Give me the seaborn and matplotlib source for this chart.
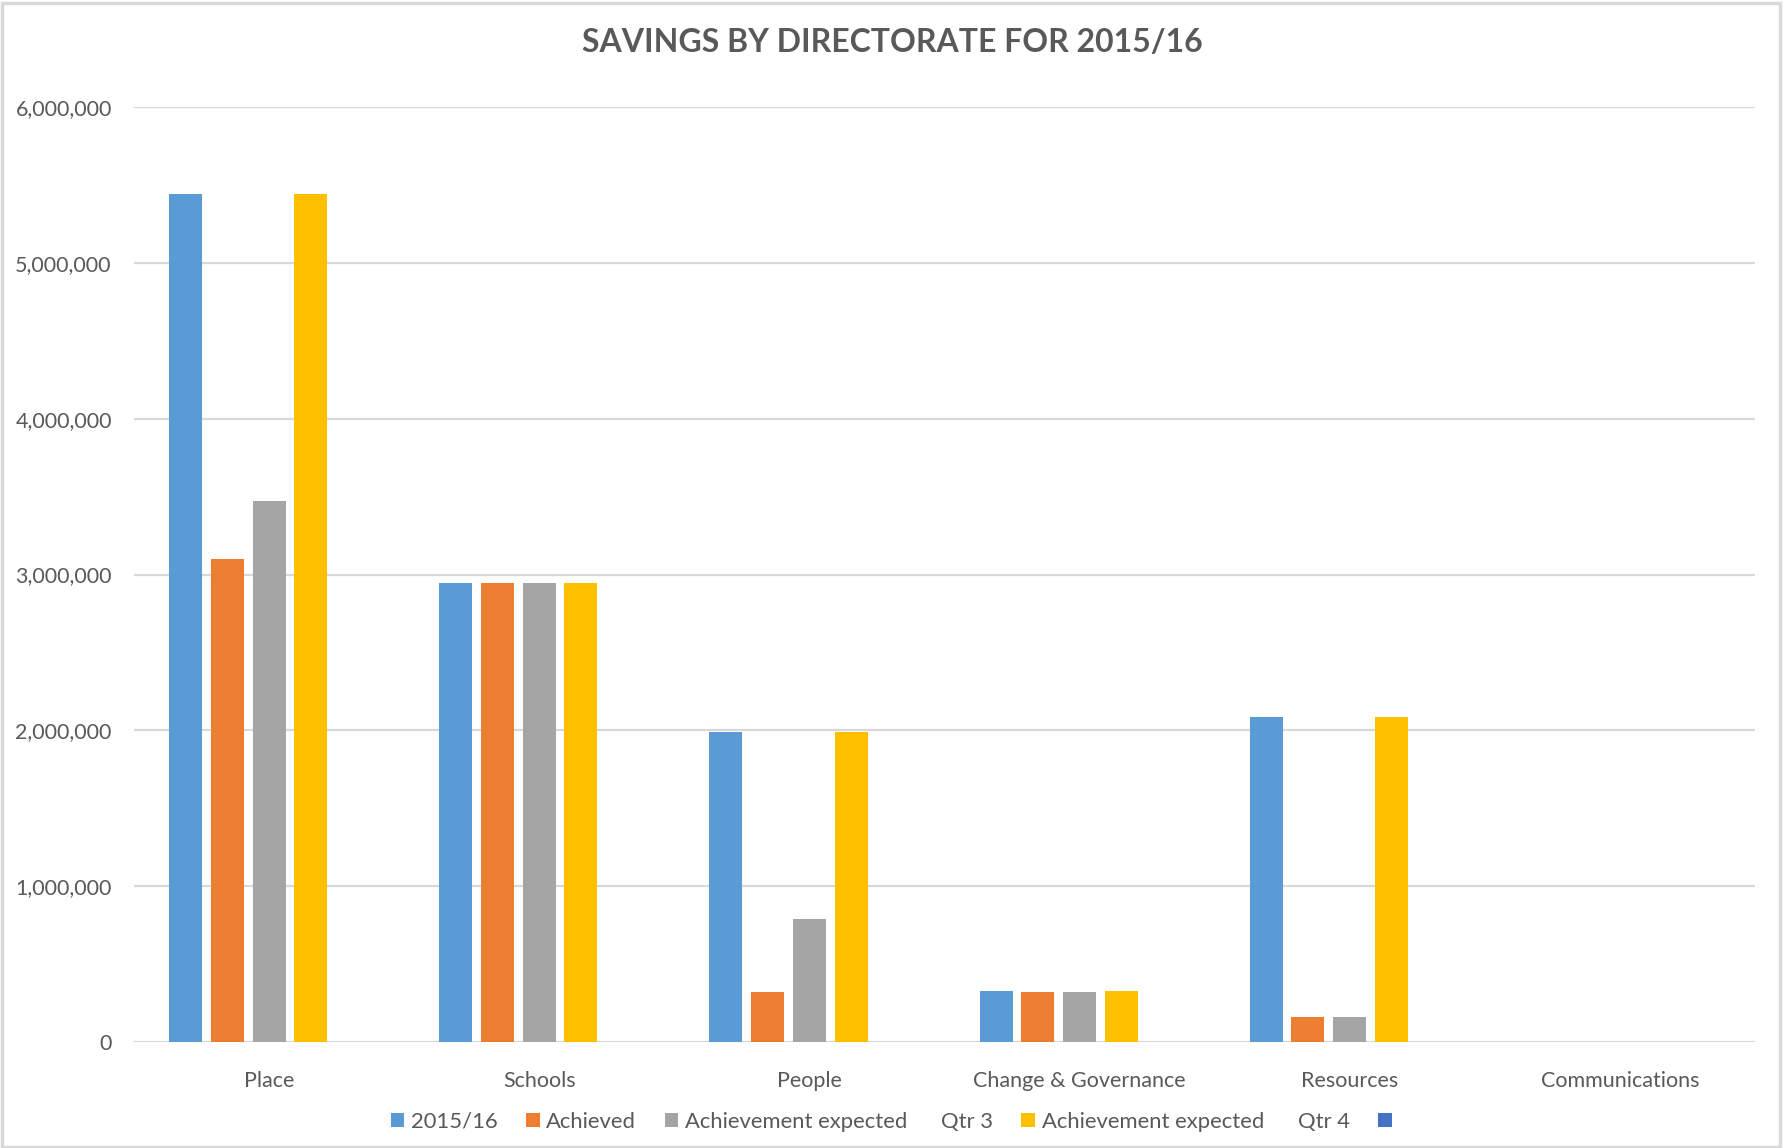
import matplotlib
matplotlib.use("Agg")
import matplotlib.pyplot as plt
import seaborn as sns
import pandas as pd
from matplotlib.ticker import FuncFormatter

# Directorates and savings figures (GBP)
directorates = ["Place", "Schools", "People", "Change & Governance", "Resources", "Communications"]
target_2015_16 = [5440000, 2944000, 1990000, 325000, 2084000, 0]
achieved = [3100000, 2944000, 320000, 319000, 159000, 0]
expected_qtr3 = [3470000, 2944000, 790000, 319000, 159000, 0]
expected_qtr4 = [5440000, 2944000, 1990000, 325000, 2084000, 0]
unnamed_series = [0, 0, 0, 0, 0, 0]

series_names = ["2015/16", "Achieved", "Achievement expected      Qtr 3",
                "Achievement expected      Qtr 4", " "]
series_values = [target_2015_16, achieved, expected_qtr3, expected_qtr4, unnamed_series]
series_colors = ["#5B9BD5", "#ED7D31", "#A5A5A5", "#FFC000", "#4472C4"]

rows = []
for name, vals in zip(series_names, series_values):
    for d, v in zip(directorates, vals):
        rows.append({"Directorate": d, "Series": name, "Savings": v})
df = pd.DataFrame(rows)

sns.set_theme(style="white")
plt.rcParams["font.family"] = ["Lato", "DejaVu Sans"]
text_color = "#595959"

fig = plt.figure(figsize=(17.84, 11.48), dpi=100)
ax = fig.add_axes([0.0751, 0.0923, 0.9086, 0.8145])

sns.barplot(data=df, x="Directorate", y="Savings", hue="Series",
            order=directorates, hue_order=series_names,
            palette=series_colors, width=0.772, gap=0.21,
            linewidth=0, saturation=1, errorbar=None, ax=ax)

ax.set_ylim(0, 6000000)
ax.set_xlim(-0.5, len(directorates) - 0.5)
ax.set_yticks(range(0, 6000001, 1000000))
ax.yaxis.set_major_formatter(FuncFormatter(lambda v, p: f"{int(v):,}"))
ax.grid(axis="y", color="#D9D9D9", linewidth=1.6)
ax.set_axisbelow(True)
for s in ax.spines.values():
    s.set_visible(False)
ax.set_xlabel("")
ax.set_ylabel("")
ax.tick_params(axis="both", length=0, labelsize=15.5, colors=text_color)
ax.tick_params(axis="x", pad=21)
ax.tick_params(axis="y", pad=16)

fig.text(0.5, 0.963, "SAVINGS BY DIRECTORATE FOR 2015/16", ha="center", va="center",
         fontsize=23, fontweight="bold", color=text_color)

sns.move_legend(ax, "center", bbox_to_anchor=(0.503, 0.0227), bbox_transform=fig.transFigure,
                ncol=5, frameon=False, title=None, fontsize=15.8,
                handlelength=0.62, handleheight=0.62, handletextpad=0.3,
                columnspacing=1.3)
for t in ax.get_legend().get_texts():
    t.set_color(text_color)

# Light chart-area border
fig.patches.append(plt.Rectangle((0.001, 0.001), 0.997, 0.996, transform=fig.transFigure,
                                 fill=False, edgecolor="#D9D9D9", linewidth=2.5))

fig.savefig("out.png", dpi=100, facecolor="white")
